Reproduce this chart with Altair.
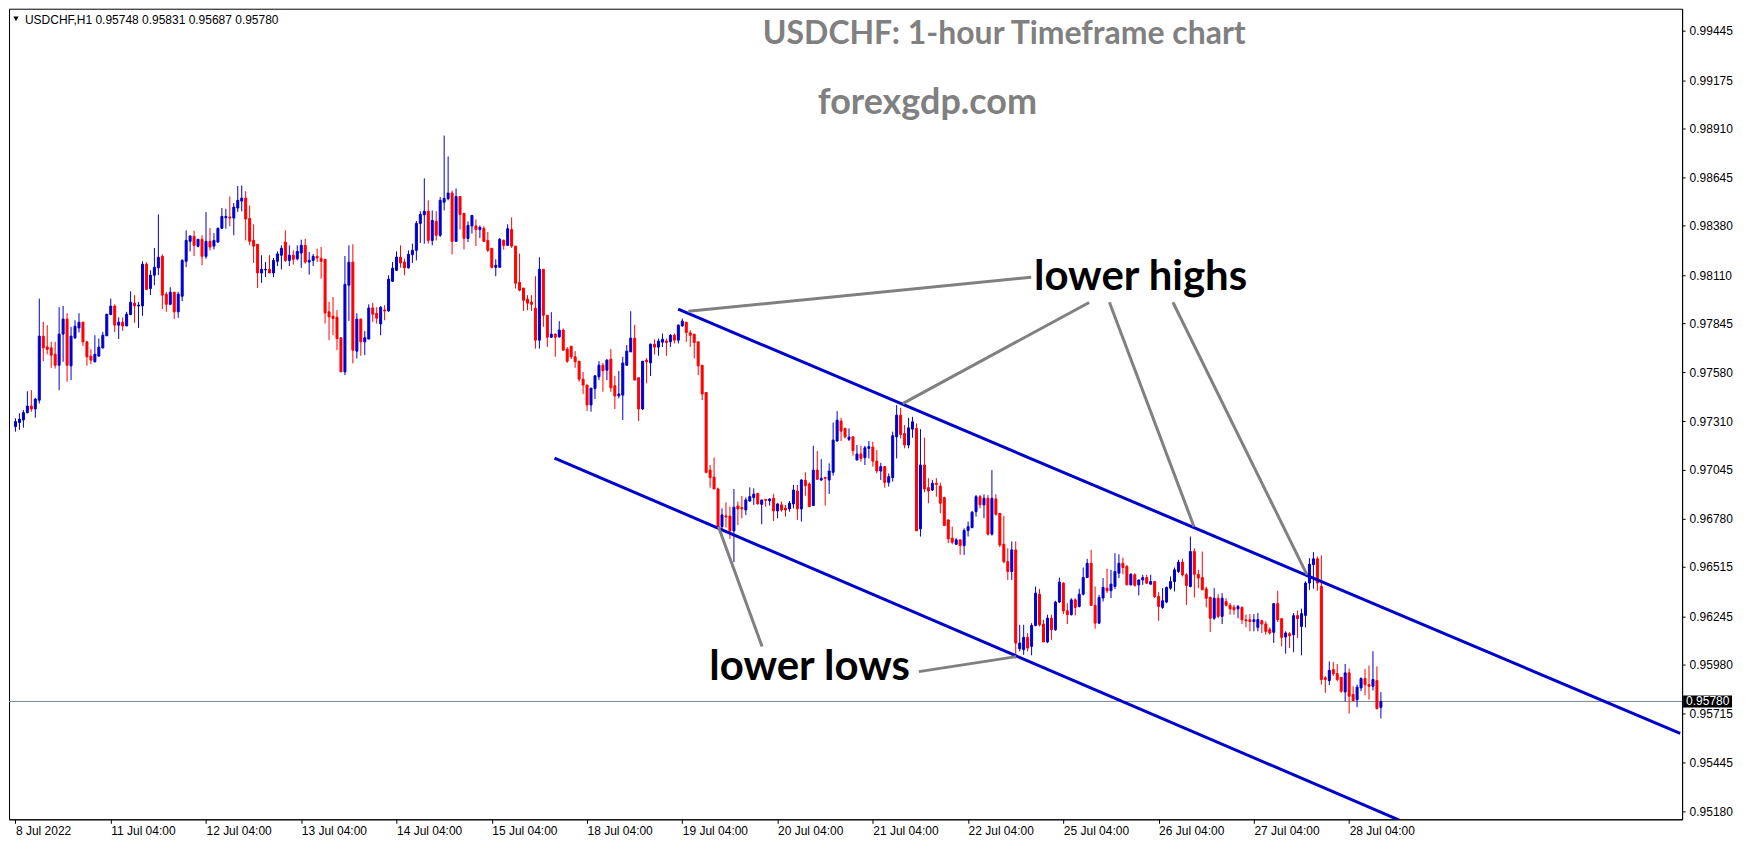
import altair as alt
import pandas as pd

# ---------------- data (USDCHF H1) ----------------
opens = [
0.97282,0.97304,0.97318,0.97358,0.97394,0.97378,0.97426,0.97776,0.97717,0.97712,
0.97677,0.97617,0.97787,0.97869,0.97614,0.97767,0.97821,0.97852,0.97745,0.97667,
0.97636,0.97667,0.97712,0.97778,0.97894,0.97940,0.97836,0.97852,0.97832,0.97894,
0.97956,0.97941,0.97941,0.98169,0.98036,0.98109,0.98149,0.98212,0.98005,0.97950,
0.98016,0.97909,0.97994,0.98185,0.98294,0.98321,0.98267,0.98305,0.98212,0.98294,
0.98268,0.98290,0.98365,0.98423,0.98427,0.98421,0.98476,0.98514,0.98530,0.98419,
0.98299,0.98278,0.98121,0.98138,0.98141,0.98121,0.98185,0.98218,0.98290,0.98190,
0.98218,0.98199,0.98230,0.98272,0.98181,0.98190,0.98212,0.98201,0.98196,0.97909,
0.97885,0.97879,0.97767,0.97581,0.98054,0.98180,0.97694,0.97869,0.97745,0.97760,
0.97930,0.97901,0.97843,0.97919,0.97914,0.98076,0.98136,0.98207,0.98181,0.98149,
0.98221,0.98245,0.98392,0.98439,0.98458,0.98299,0.98403,0.98327,0.98508,0.98527,
0.98558,0.98294,0.98539,0.98447,0.98310,0.98378,0.98378,0.98359,0.98365,0.98299,
0.98256,0.98152,0.98152,0.98299,0.98272,0.98359,0.98268,0.98070,0.98039,0.97978,
0.97961,0.97929,0.97754,0.98141,0.97890,0.97770,0.97787,0.97772,0.97809,0.97705,
0.97721,0.97663,0.97639,0.97541,0.97509,0.97400,0.97490,0.97554,0.97617,0.97590,
0.97650,0.97505,0.97450,0.97454,0.97617,0.97690,0.97765,0.97549,0.97378,0.97645,
0.97630,0.97732,0.97716,0.97743,0.97749,0.97745,0.97781,0.97754,0.97832,0.97852,
0.97794,0.97787,0.97745,0.97617,0.97468,0.97044,0.97006,0.96941,0.96735,0.96794,
0.96793,0.96712,0.96848,0.96839,0.96826,0.96875,0.96894,0.96917,0.96857,0.96884,
0.96877,0.96890,0.96821,0.96854,0.96837,0.96832,0.96859,0.96930,0.96832,0.96988,
0.96968,0.96850,0.97044,0.96990,0.97003,0.96990,0.97032,0.97203,0.97312,0.97272,
0.97212,0.97226,0.97099,0.97132,0.97112,0.97163,0.97170,0.97093,0.97039,0.97063,
0.96977,0.97003,0.97226,0.97344,0.97244,0.97181,0.97268,0.97272,0.96723,0.97072,
0.96948,0.96935,0.96972,0.96957,0.96894,0.96772,0.96672,0.96639,0.96663,0.96632,
0.96714,0.96730,0.96817,0.96899,0.96854,0.96890,0.96694,0.96886,0.96808,0.96639,
0.96544,0.96490,0.96608,0.96068,0.96063,0.96130,0.96081,0.96195,0.96366,0.96203,
0.96105,0.96235,0.96172,0.96323,0.96426,0.96275,0.96254,0.96335,0.96299,0.96366,
0.96457,0.96535,0.96305,0.96208,0.96345,0.96399,0.96385,0.96408,0.96481,0.96535,
0.96517,0.96417,0.96472,0.96417,0.96444,0.96457,0.96421,0.96435,0.96354,0.96294,
0.96323,0.96399,0.96435,0.96490,0.96541,0.96472,0.96408,0.96599,0.96475,0.96457,
0.96395,0.96348,0.96235,0.96344,0.96245,0.96326,0.96305,0.96294,0.96286,0.96294,
0.96226,0.96226,0.96217,0.96185,0.96221,0.96203,0.96172,0.96158,0.96314,0.96232,
0.96132,0.96150,0.96145,0.96249,0.96190,0.96250,0.96427,0.96527,0.96559,0.96409,
0.95909,0.95894,0.95954,0.95932,0.95912,0.95832,0.95936,0.95818,0.95790,0.95854,
0.95905,0.95872,0.95863,0.95894,0.95748]

highs = [
0.97327,0.97354,0.97372,0.97475,0.97481,0.97439,0.97981,0.97854,0.97836,0.97745,
0.97745,0.97934,0.97941,0.97901,0.97827,0.97863,0.97901,0.97854,0.97750,0.97704,
0.97781,0.97763,0.97799,0.97896,0.97981,0.97950,0.97879,0.97878,0.97909,0.98021,
0.98000,0.97963,0.98185,0.98180,0.98136,0.98258,0.98441,0.98223,0.98018,0.98043,
0.98018,0.98018,0.98196,0.98354,0.98327,0.98352,0.98307,0.98327,0.98454,0.98367,
0.98339,0.98370,0.98476,0.98472,0.98539,0.98503,0.98596,0.98599,0.98568,0.98490,
0.98387,0.98278,0.98218,0.98181,0.98218,0.98203,0.98239,0.98272,0.98354,0.98272,
0.98245,0.98272,0.98303,0.98308,0.98236,0.98225,0.98254,0.98263,0.98196,0.97963,
0.97990,0.97918,0.97767,0.98214,0.98272,0.98278,0.97901,0.97872,0.97803,0.97950,
0.97958,0.97934,0.97939,0.97945,0.98109,0.98181,0.98239,0.98272,0.98199,0.98245,
0.98281,0.98405,0.98458,0.98638,0.98518,0.98463,0.98459,0.98536,0.98872,0.98758,
0.98572,0.98583,0.98539,0.98447,0.98403,0.98436,0.98414,0.98381,0.98376,0.98345,
0.98256,0.98196,0.98312,0.98305,0.98387,0.98425,0.98268,0.98227,0.98039,0.98000,
0.98000,0.98103,0.98207,0.98141,0.97890,0.97907,0.97790,0.97858,0.97818,0.97716,
0.97721,0.97694,0.97639,0.97580,0.97509,0.97492,0.97563,0.97639,0.97630,0.97650,
0.97705,0.97559,0.97585,0.97663,0.97727,0.97912,0.97838,0.97549,0.97639,0.97656,
0.97736,0.97758,0.97763,0.97790,0.97763,0.97787,0.97790,0.97840,0.97872,0.97854,
0.97809,0.97787,0.97745,0.97617,0.97468,0.97072,0.97113,0.96948,0.96835,0.96868,
0.96844,0.96941,0.96872,0.96903,0.96895,0.96950,0.96944,0.96917,0.96881,0.96884,
0.96890,0.96915,0.96863,0.96872,0.96854,0.96875,0.96963,0.96963,0.96994,0.97032,
0.96977,0.97177,0.97148,0.97104,0.97008,0.97081,0.97304,0.97366,0.97330,0.97275,
0.97272,0.97226,0.97181,0.97177,0.97177,0.97203,0.97199,0.97154,0.97084,0.97063,
0.97026,0.97254,0.97399,0.97384,0.97290,0.97330,0.97335,0.97299,0.97268,0.97221,
0.97000,0.96990,0.97000,0.96975,0.96899,0.96772,0.96735,0.96672,0.96663,0.96726,
0.96763,0.96821,0.96908,0.96908,0.96912,0.96908,0.97044,0.96912,0.96808,0.96794,
0.96617,0.96654,0.96654,0.96199,0.96199,0.96154,0.96208,0.96408,0.96395,0.96226,
0.96254,0.96254,0.96330,0.96457,0.96432,0.96317,0.96344,0.96344,0.96395,0.96512,
0.96559,0.96608,0.96408,0.96363,0.96454,0.96505,0.96499,0.96590,0.96584,0.96566,
0.96526,0.96481,0.96481,0.96444,0.96472,0.96472,0.96472,0.96435,0.96377,0.96399,
0.96408,0.96463,0.96512,0.96554,0.96559,0.96481,0.96681,0.96617,0.96499,0.96599,
0.96408,0.96354,0.96399,0.96366,0.96372,0.96344,0.96317,0.96308,0.96308,0.96299,
0.96254,0.96257,0.96257,0.96263,0.96227,0.96218,0.96185,0.96318,0.96385,0.96232,
0.96163,0.96160,0.96263,0.96276,0.96287,0.96436,0.96563,0.96596,0.96572,0.96578,
0.95918,0.95999,0.95996,0.95985,0.95912,0.95985,0.95960,0.95863,0.95872,0.95912,
0.95958,0.95976,0.96054,0.95972,0.95831]

lows = [
0.97254,0.97264,0.97276,0.97354,0.97363,0.97330,0.97408,0.97639,0.97677,0.97603,
0.97599,0.97481,0.97636,0.97527,0.97536,0.97760,0.97796,0.97723,0.97614,0.97623,
0.97632,0.97663,0.97708,0.97776,0.97890,0.97799,0.97760,0.97805,0.97830,0.97890,
0.97849,0.97821,0.97887,0.98027,0.98000,0.98054,0.98109,0.97923,0.97909,0.97945,
0.97869,0.97876,0.97967,0.98154,0.98239,0.98214,0.98261,0.98163,0.98199,0.98245,
0.98250,0.98287,0.98363,0.98363,0.98376,0.98327,0.98454,0.98458,0.98299,0.98272,
0.98176,0.98039,0.98067,0.98099,0.98121,0.98099,0.98159,0.98141,0.98181,0.98159,
0.98167,0.98190,0.98149,0.98172,0.98112,0.98159,0.98181,0.98090,0.97845,0.97754,
0.97781,0.97699,0.97581,0.97563,0.97859,0.97627,0.97654,0.97669,0.97672,0.97760,
0.97854,0.97845,0.97781,0.97863,0.97909,0.98072,0.98132,0.98150,0.98109,0.98145,
0.98176,0.98190,0.98285,0.98281,0.98281,0.98272,0.98299,0.98318,0.98463,0.98518,
0.98223,0.98294,0.98359,0.98250,0.98290,0.98336,0.98268,0.98312,0.98290,0.98236,
0.98145,0.98103,0.98152,0.98248,0.98268,0.98258,0.98036,0.98021,0.97914,0.97918,
0.97914,0.97708,0.97708,0.97827,0.97717,0.97767,0.97663,0.97767,0.97699,0.97630,
0.97650,0.97603,0.97527,0.97460,0.97367,0.97363,0.97432,0.97536,0.97472,0.97536,
0.97472,0.97378,0.97436,0.97318,0.97614,0.97690,0.97536,0.97312,0.97372,0.97518,
0.97558,0.97676,0.97669,0.97717,0.97669,0.97717,0.97736,0.97736,0.97827,0.97745,
0.97717,0.97654,0.97563,0.97427,0.97026,0.96948,0.96941,0.96723,0.96717,0.96730,
0.96668,0.96541,0.96744,0.96781,0.96799,0.96872,0.96854,0.96857,0.96748,0.96844,
0.96850,0.96766,0.96781,0.96817,0.96790,0.96817,0.96835,0.96772,0.96763,0.96904,
0.96844,0.96850,0.96990,0.96984,0.96850,0.96914,0.97014,0.97199,0.97203,0.97217,
0.97203,0.97123,0.97099,0.97090,0.97072,0.97108,0.97063,0.97026,0.96990,0.96948,
0.96954,0.96981,0.97108,0.97217,0.97163,0.97163,0.97221,0.96712,0.96681,0.96923,
0.96863,0.96930,0.96899,0.96808,0.96741,0.96645,0.96639,0.96635,0.96581,0.96581,
0.96681,0.96726,0.96790,0.96835,0.96781,0.96686,0.96686,0.96795,0.96623,0.96535,
0.96444,0.96444,0.96014,0.96054,0.96035,0.96054,0.96032,0.96190,0.96190,0.96105,
0.96099,0.96117,0.96166,0.96317,0.96257,0.96203,0.96250,0.96250,0.96294,0.96359,
0.96454,0.96305,0.96177,0.96203,0.96326,0.96372,0.96345,0.96395,0.96454,0.96475,
0.96417,0.96414,0.96408,0.96359,0.96417,0.96421,0.96417,0.96345,0.96221,0.96286,
0.96317,0.96390,0.96381,0.96481,0.96463,0.96308,0.96403,0.96348,0.96399,0.96390,
0.96294,0.96159,0.96226,0.96235,0.96203,0.96299,0.96254,0.96254,0.96235,0.96203,
0.96185,0.96163,0.96163,0.96163,0.96154,0.96145,0.96145,0.96100,0.96214,0.96081,
0.96041,0.96072,0.96049,0.96127,0.96032,0.96185,0.96390,0.96396,0.96385,0.95872,
0.95827,0.95869,0.95918,0.95890,0.95827,0.95781,0.95714,0.95781,0.95749,0.95836,
0.95814,0.95790,0.95840,0.95736,0.95687]

closes = [
0.97309,0.97322,0.97358,0.97394,0.97378,0.97432,0.97776,0.97712,0.97704,0.97672,
0.97617,0.97787,0.97869,0.97617,0.97776,0.97830,0.97852,0.97745,0.97663,0.97645,
0.97677,0.97716,0.97781,0.97896,0.97940,0.97836,0.97852,0.97832,0.97896,0.97961,
0.97941,0.97945,0.98169,0.98032,0.98109,0.98152,0.98207,0.98000,0.97950,0.98016,
0.97909,0.98005,0.98190,0.98299,0.98323,0.98272,0.98305,0.98212,0.98294,0.98263,
0.98299,0.98365,0.98430,0.98430,0.98421,0.98481,0.98518,0.98530,0.98416,0.98294,
0.98268,0.98121,0.98141,0.98141,0.98121,0.98190,0.98225,0.98256,0.98190,0.98218,
0.98196,0.98239,0.98272,0.98181,0.98190,0.98212,0.98203,0.98185,0.97903,0.97881,
0.97872,0.97763,0.97581,0.98059,0.98180,0.97699,0.97869,0.97745,0.97767,0.97930,
0.97896,0.97874,0.97934,0.97914,0.98087,0.98147,0.98208,0.98176,0.98149,0.98223,
0.98245,0.98392,0.98441,0.98458,0.98299,0.98408,0.98327,0.98518,0.98528,0.98558,
0.98294,0.98539,0.98441,0.98310,0.98381,0.98436,0.98359,0.98370,0.98294,0.98245,
0.98152,0.98163,0.98305,0.98272,0.98363,0.98268,0.98065,0.98027,0.97972,0.97956,
0.97950,0.97754,0.98141,0.97890,0.97770,0.97787,0.97770,0.97809,0.97699,0.97639,
0.97663,0.97636,0.97541,0.97509,0.97400,0.97492,0.97559,0.97617,0.97587,0.97645,
0.97494,0.97449,0.97460,0.97629,0.97694,0.97765,0.97536,0.97378,0.97639,0.97636,
0.97732,0.97716,0.97749,0.97759,0.97741,0.97781,0.97754,0.97836,0.97858,0.97796,
0.97781,0.97741,0.97614,0.97460,0.97032,0.97003,0.96941,0.96730,0.96799,0.96788,
0.96712,0.96841,0.96832,0.96832,0.96881,0.96899,0.96913,0.96859,0.96881,0.96879,
0.96886,0.96821,0.96859,0.96826,0.96826,0.96863,0.96935,0.96832,0.96990,0.96959,
0.96844,0.97044,0.96994,0.96999,0.96999,0.97039,0.97208,0.97317,0.97257,0.97226,
0.97224,0.97150,0.97132,0.97108,0.97166,0.97172,0.97093,0.97039,0.97063,0.96977,
0.97008,0.97232,0.97344,0.97239,0.97181,0.97275,0.97308,0.96712,0.97072,0.96941,
0.96930,0.96972,0.96966,0.96863,0.96741,0.96668,0.96650,0.96663,0.96632,0.96714,
0.96735,0.96814,0.96899,0.96854,0.96890,0.96694,0.96890,0.96803,0.96635,0.96544,
0.96490,0.96608,0.96099,0.96099,0.96130,0.96072,0.96195,0.96372,0.96199,0.96105,
0.96235,0.96172,0.96323,0.96432,0.96275,0.96254,0.96335,0.96294,0.96366,0.96457,
0.96535,0.96305,0.96208,0.96348,0.96403,0.96385,0.96421,0.96490,0.96535,0.96512,
0.96417,0.96475,0.96414,0.96444,0.96457,0.96426,0.96435,0.96354,0.96299,0.96330,
0.96403,0.96435,0.96499,0.96541,0.96472,0.96414,0.96599,0.96475,0.96454,0.96390,
0.96344,0.96235,0.96344,0.96245,0.96344,0.96305,0.96286,0.96281,0.96299,0.96226,
0.96221,0.96217,0.96226,0.96227,0.96203,0.96163,0.96154,0.96314,0.96227,0.96130,
0.96154,0.96139,0.96249,0.96232,0.96260,0.96427,0.96530,0.96559,0.96427,0.95900,
0.95900,0.95950,0.95931,0.95900,0.95836,0.95936,0.95809,0.95785,0.95858,0.95905,
0.95872,0.95863,0.95900,0.95741,0.95780]

# x-axis: one tick per trading day (24 hourly bars)
x_tick_bars = [0, 24, 48, 72, 96, 120, 144, 168, 192, 216, 240, 264, 288, 312, 336]
x_tick_labels = ["8 Jul 2022", "11 Jul 04:00", "12 Jul 04:00", "13 Jul 04:00", "14 Jul 04:00",
                 "15 Jul 04:00", "18 Jul 04:00", "19 Jul 04:00", "20 Jul 04:00", "21 Jul 04:00",
                 "22 Jul 04:00", "25 Jul 04:00", "26 Jul 04:00", "27 Jul 04:00", "28 Jul 04:00"]
y_tick_values = [0.99445, 0.99175, 0.98910, 0.98645, 0.98380, 0.98110, 0.97845, 0.97580,
                 0.97310, 0.97045, 0.96780, 0.96515, 0.96245, 0.95980, 0.95715, 0.95445, 0.95180]

# descending channel lines
chan_id = ["upper", "upper", "lower", "lower"]
chan_bar = [166.97, 419.4, 135.8, 354.6]
chan_price = [0.97923, 0.95605, 0.97110, 0.95076]

# grey pointer lines
ptr_id = ["h1", "h1", "h2", "h2", "h3", "h3", "h4", "h4", "l1", "l1", "l2", "l2"]
ptr_bar = [169.5, 255.9, 223.5, 270.5, 296.9, 275.6, 325.4, 291.6, 177.1, 188.1, 252.1, 227.6]
ptr_price = [0.97912, 0.98098, 0.97407, 0.97960, 0.96736, 0.97961, 0.96472, 0.97961,
             0.96734, 0.96080, 0.96025, 0.95943]

# annotation labels
ann_text = ["lower highs", "lower lows"]
ann_bar = [256.6, 174.8]
ann_price = [0.98027, 0.95899]

last_price = 0.95780
header = "USDCHF,H1  0.95748 0.95831 0.95687 0.95780"
title_text = "USDCHF: 1-hour Timeframe chart"
sub_text = "forexgdp.com"

# ---------------- chart ----------------
W, H = 1676, 812
BLUE = "#0000CD"
RED = "#FF0000"
FONT = "Liberation Sans"

df = pd.DataFrame({"bar": list(range(len(opens))), "open": opens, "high": highs,
                   "low": lows, "close": closes})
chan_df = pd.DataFrame({"id": chan_id, "bar": chan_bar, "price": chan_price})
ptr_df = pd.DataFrame({"id": ptr_id, "bar": ptr_bar, "price": ptr_price})
ann_df = pd.DataFrame({"text": ann_text, "bar": ann_bar, "price": ann_price})

xs = alt.Scale(domain=[-0.375, W / 4 - 0.375], nice=False, zero=False)
ys = alt.Scale(domain=[0.95136, 0.99565], nice=False, zero=False)
cs = alt.Scale(domain=["up", "down"], range=[BLUE, RED])

label_expr = "[" + ",".join("'" + s + "'" for s in x_tick_labels) + "][round(datum.value / 24)]"

xaxis = alt.Axis(values=x_tick_bars, labelExpr=label_expr, labelAlign="left", labelPadding=2,
                 labelOffset=0, tickSize=4, grid=False, title=None, labelOverlap=False,
                 labelFlush=False, labelBound=False, labelFont=FONT, labelFontSize=12,
                 labelColor="black", tickColor="black", domainColor="black")
yaxis = alt.Axis(orient="right", values=y_tick_values, format=".5f", tickSize=3, labelPadding=4,
                 grid=False, title=None, labelOverlap=False, labelFont=FONT, labelFontSize=12,
                 labelColor="black", tickColor="black", domainColor="black")

base = alt.Chart(df).transform_calculate(dir="datum.close >= datum.open ? 'up' : 'down'")

wicks = base.mark_rule(strokeWidth=1).encode(
    x=alt.X("bar:Q", scale=xs, axis=xaxis),
    y=alt.Y("low:Q", scale=ys, axis=yaxis),
    y2="high:Q",
    color=alt.Color("dir:N", scale=cs, legend=None),
)
bodies = base.mark_bar(size=2, strokeWidth=1).encode(
    x=alt.X("bar:Q", scale=xs),
    y=alt.Y("open:Q", scale=ys),
    y2="close:Q",
    color=alt.Color("dir:N", scale=cs, legend=None),
    stroke=alt.Stroke("dir:N", scale=cs, legend=None),
)

chan = alt.Chart(chan_df).mark_line(color=BLUE, strokeWidth=3, clip=True).encode(
    x=alt.X("bar:Q", scale=xs), y=alt.Y("price:Q", scale=ys), detail="id:N")
ptr = alt.Chart(ptr_df).mark_line(color="#808080", strokeWidth=3, clip=True).encode(
    x=alt.X("bar:Q", scale=xs), y=alt.Y("price:Q", scale=ys), detail="id:N")

ann = alt.Chart(ann_df).mark_text(align="left", baseline="alphabetic", font="Lato",
                                  fontWeight="bold", fontSize=42, color="black").encode(
    x=alt.X("bar:Q", scale=xs), y=alt.Y("price:Q", scale=ys), text="text:N")

price_line = alt.Chart(pd.DataFrame({"p": [last_price]})).mark_rule(
    color="#7A8A9A", strokeWidth=1).encode(y=alt.Y("p:Q", scale=ys))
price_box = alt.Chart(pd.DataFrame({"p": [last_price]})).mark_rule(
    color="black", strokeWidth=12, clip=False).encode(
    y=alt.Y("p:Q", scale=ys), x=alt.value(W + 1), x2=alt.value(W + 50))
price_txt = alt.Chart(pd.DataFrame({"p": [last_price], "t": ["0.95780"]})).mark_text(
    color="white", align="left", baseline="middle", font=FONT, fontSize=12, clip=False).encode(
    y=alt.Y("p:Q", scale=ys), x=alt.value(W + 4), text="t:N")

title = alt.Chart(pd.DataFrame({"t": [title_text]})).mark_text(
    align="center", baseline="alphabetic", font="Lato", fontWeight="bold", fontSize=32,
    color="#808080").encode(x=alt.value(997), y=alt.value(35), text="t:N")
sub = alt.Chart(pd.DataFrame({"t": [sub_text]})).mark_text(
    align="center", baseline="alphabetic", font="Lato", fontWeight="bold", fontSize=36,
    color="#808080").encode(x=alt.value(920), y=alt.value(105), text="t:N")
head_txt = alt.Chart(pd.DataFrame({"t": [header]})).mark_text(
    align="left", baseline="alphabetic", font=FONT, fontSize=12, color="black").encode(
    x=alt.value(16), y=alt.value(15), text="t:N")
head_tri = alt.Chart(pd.DataFrame({"t": ["v"]})).mark_point(
    shape="triangle-down", filled=True, size=28, color="black", opacity=1).encode(
    x=alt.value(7), y=alt.value(10))

chart = alt.layer(price_line, wicks, bodies, chan, ptr, ann, price_box, price_txt,
                  title, sub, head_txt, head_tri).properties(
    width=W, height=H, padding=0, background="white"
).configure_view(stroke="black", strokeWidth=1)

chart.save("out.html", embed_options={"renderer": "svg", "actions": False})
